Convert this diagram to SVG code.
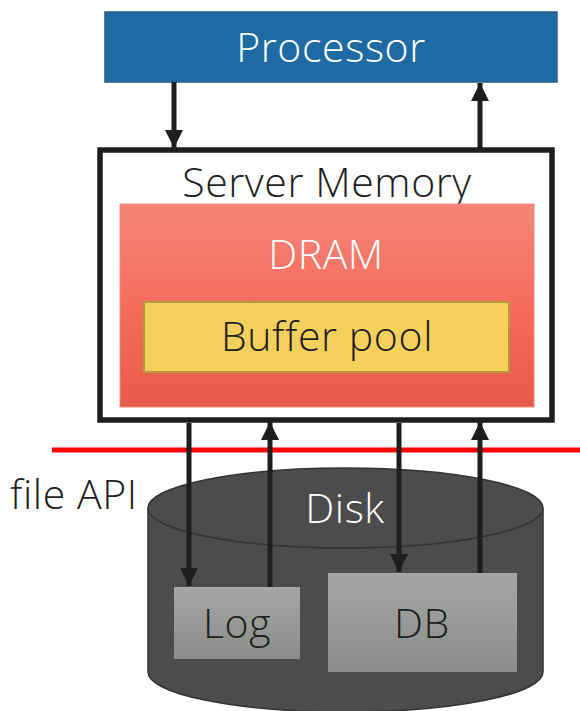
<svg xmlns="http://www.w3.org/2000/svg" width="580" height="711" viewBox="0 0 580 711">
<defs>
<linearGradient id="gDram" x1="0" y1="0" x2="0" y2="1">
<stop offset="0" stop-color="#f5857a"/>
<stop offset="0.5" stop-color="#f66d5c"/>
<stop offset="1" stop-color="#e65a49"/>
</linearGradient>
<linearGradient id="gGrey" x1="0" y1="0" x2="0" y2="1">
<stop offset="0" stop-color="#a5a7a5"/>
<stop offset="1" stop-color="#8b8d8b"/>
</linearGradient>
<marker id="ah" viewBox="0 0 10 10" refX="10" refY="5" markerWidth="3.6" markerHeight="3.6" orient="auto" markerUnits="strokeWidth">
<path d="M0,0 L10,5 L0,10 z" fill="#1e1e1e"/>
</marker>
<style>
text{font-family:"Open Sans",Lato,"Liberation Sans",sans-serif;font-weight:300;font-size:41px;letter-spacing:0.6px;text-anchor:middle}
.w{fill:#ffffff}
.d{fill:#1e1e1e}
.arr{stroke:#1e1e1e;stroke-width:5;fill:none;marker-end:url(#ah)}
</style>
</defs>
<g id="processor">
<rect x="105" y="12" width="452" height="70" fill="#1e6aa3" stroke="#2a5f8c" stroke-width="1.5"/>
<text class="w" x="331" y="62">Processor</text>
</g>
<g id="server-memory">
<rect x="100" y="150" width="452" height="270" fill="#ffffff" stroke="#1e1e1e" stroke-width="5.5"/>
<text class="d" x="327" y="197">Server Memory</text>
</g>
<g id="dram">
<rect x="120" y="204" width="414" height="203" fill="url(#gDram)" stroke="#f28a7d" stroke-width="1"/>
<text class="w" x="326" y="269">DRAM</text>
</g>
<g id="buffer-pool">
<rect x="144" y="302" width="365" height="70" fill="#f6d05c" stroke="#b59a3b" stroke-width="2"/>
<text class="d" x="327" y="351">Buffer pool</text>
</g>
<g id="api-line">
<line x1="52" y1="450" x2="580" y2="450" stroke="#ff0000" stroke-width="5"/>
<text class="d" x="10" y="509" style="text-anchor:start">file API</text>
</g>
<g id="disk">
<path d="M148,508 L148,672 A197.5,40 0 0 0 543,672 L543,508" fill="#4b4c4b" stroke="#333333" stroke-width="1.5"/>
<ellipse cx="345.5" cy="508" rx="197.5" ry="40" fill="#4b4c4b" stroke="#333333" stroke-width="1.5"/>
<text class="w" x="345" y="523">Disk</text>
</g>
<g id="log">
<rect x="174" y="587" width="126" height="72" fill="url(#gGrey)"/>
<text class="d" x="237" y="638">Log</text>
</g>
<g id="db">
<rect x="328" y="573" width="189" height="99" fill="url(#gGrey)"/>
<text class="d" x="422" y="638">DB</text>
</g>
<g id="connectors">
<line class="arr" x1="174" y1="82" x2="174" y2="148"/>
<line class="arr" x1="480" y1="148" x2="480" y2="83"/>
<line class="arr" x1="189" y1="423" x2="189" y2="586"/>
<line class="arr" x1="270" y1="587" x2="270" y2="422"/>
<line class="arr" x1="399" y1="423" x2="399" y2="572"/>
<line class="arr" x1="480" y1="573" x2="480" y2="422"/>
</g>
</svg>
